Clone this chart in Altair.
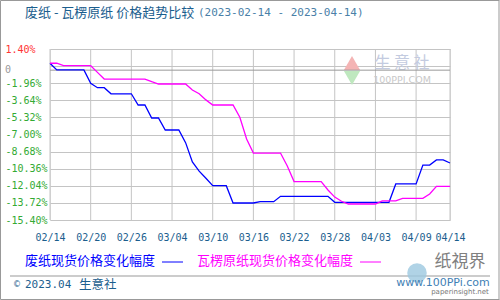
import altair as alt
import pandas as pd

# ---- data ----
START = "2023-02-14"
END = "2023-04-14"
waste_paper = [0.0, -0.66, -0.66, -0.66, -0.66, -0.66, -1.96, -2.4, -2.4, -3.0,
               -3.0, -3.0, -3.0, -4.1, -4.1, -5.38, -5.38, -6.56, -6.56, -6.56,
               -7.8, -9.7, -10.6, -11.3, -12.03, -12.03, -12.03, -13.73, -13.73, -13.73,
               -13.73, -13.6, -13.6, -13.6, -13.07, -13.07, -13.07, -13.07, -13.07, -13.07,
               -13.07, -13.07, -13.66, -13.66, -13.66, -13.66, -13.66, -13.66, -13.66, -13.66,
               -13.66, -11.86, -11.86, -11.86, -11.86, -10.0, -10.0, -9.5, -9.5, -9.8]
corrugated = [0.0, 0.0, -0.24, -0.24, -0.24, -0.24, -0.24, -0.9, -1.55, -1.55,
              -1.55, -1.55, -1.55, -1.55, -1.55, -1.81, -2.04, -2.04, -2.04, -2.04,
              -2.04, -2.63, -3.0, -3.6, -4.1, -4.1, -4.1, -4.1, -5.31, -7.44,
              -8.82, -8.82, -8.82, -8.82, -8.82, -10.1, -11.63, -11.63, -11.63, -11.63,
              -11.63, -12.45, -13.15, -13.56, -13.83, -13.83, -13.83, -13.83, -13.83, -13.53,
              -13.53, -13.53, -13.27, -13.27, -13.27, -13.27, -12.84, -12.09, -12.09, -12.09]
series_names = ["废纸现货价格变化幅度", "瓦楞原纸现货价格变化幅度"]
series_colors = ["#0000ff", "#ff00ff"]
y_ticks = [1.40, -0.28, -1.96, -3.64, -5.32, -7.00, -8.68, -10.36, -12.04, -13.72, -15.40]
x_ticks = ["2023-02-14", "2023-02-20", "2023-02-26", "2023-03-04", "2023-03-10",
           "2023-03-16", "2023-03-22", "2023-03-28", "2023-04-03", "2023-04-09", "2023-04-14"]
BASELINE = -0.68
title_main = "废纸 - 瓦楞原纸 价格趋势比较"
title_dates = "(2023-02-14 - 2023-04-14)"
footer_year = "2023.04"
footer_site = "生意社"

dates = pd.date_range(START, END, freq="D").strftime("%Y-%m-%d")
df = pd.DataFrame({
    "date": list(dates) * 2,
    "value": waste_paper + corrugated,
    "series": [series_names[0]] * len(dates) + [series_names[1]] * len(dates),
})

CJK = "Noto Sans CJK SC"
MONO = "DejaVu Sans Mono"
DARK = "#1b5e8e"
GRID = "#c4c4c4"

x_scale = alt.Scale(type="utc", domain=[START, END], nice=False)
y_scale = alt.Scale(domain=[-15.4, 1.4], nice=False, zero=False)

x_axis = alt.Axis(values=x_ticks, format="%m/%d", title=None, domain=False,
                  ticks=False, labelColor=DARK, labelFont=MONO, labelFontSize=10,
                  labelPadding=12, labelOverlap=False, labelFlush=False, grid=False)
y_axis = alt.Axis(values=y_ticks, title=None, domain=False, ticks=False, tickSize=0,
                  labelAlign="left", labelPadding=45, labelFont=MONO, labelFontSize=10,
                  labelOverlap=False, labelFlush=False,
                  grid=True, gridColor=GRID, gridWidth=1,
                  labelExpr="abs(datum.value + 0.28) < 0.01 ? '' : (datum.value < 0 ? '-' : '') + format(abs(datum.value), '.2f') + '%'",
                  labelColor={"condition": {"test": "datum.value > 0", "value": "#ff3333"},
                              "value": "#33aa33"})

X = alt.X("date:T", scale=x_scale, axis=x_axis)
Y = alt.Y("value:Q", scale=y_scale, axis=y_axis)

# vertical grid lines drawn from the tick array through the shared x scale
xgrid = alt.Chart(alt.Data(values=[{"date": d} for d in x_ticks])).mark_rule(
    color=GRID, strokeWidth=1).encode(x=X, y=alt.value(0), y2=alt.value(171))

lines = alt.Chart(df).mark_line(strokeWidth=1.3, interpolate="linear").encode(
    x=X, y=Y,
    color=alt.Color("series:N", scale=alt.Scale(domain=series_names, range=series_colors), legend=None),
)

base_rule = alt.Chart(pd.DataFrame({"value": [BASELINE]})).mark_rule(color="#999999", strokeWidth=1).encode(y=Y)
zero_label = alt.Chart(pd.DataFrame({"value": [BASELINE], "t": ["0"]})).mark_text(
    align="left", baseline="middle", font=MONO, fontSize=10, color="#999999").encode(
    y=Y, x=alt.value(-45), text="t:N")


def label(text, x, y, color, size, font=CJK, align="left", weight="normal"):
    return alt.Chart(alt.Data(values=[{"t": text}])).mark_text(
        align=align, baseline="middle", font=font, fontSize=size, color=color, fontWeight=weight
    ).encode(text="t:N", x=alt.value(x), y=alt.value(y))


def hline(x1, x2, y, color, width=1.0):
    return alt.Chart(alt.Data(values=[{"a": 1}])).mark_rule(color=color, strokeWidth=width).encode(
        x=alt.value(x1), x2=alt.value(x2), y=alt.value(y))


def vline(x, y1, y2, color, width=1.0):
    return alt.Chart(alt.Data(values=[{"a": 1}])).mark_rule(color=color, strokeWidth=width).encode(
        x=alt.value(x), y=alt.value(y1), y2=alt.value(y2))


tri_up = alt.Chart(alt.Data(values=[{"a": 1}])).mark_point(
    shape="triangle-up", filled=True, color="#f4b4b4", size=260, opacity=1).encode(
    x=alt.value(302), y=alt.value(14))
tri_down = alt.Chart(alt.Data(values=[{"a": 1}])).mark_point(
    shape="triangle-down", filled=True, color="#bfe8bf", size=260, opacity=1).encode(
    x=alt.value(302), y=alt.value(29))
logo_circle = alt.Chart(alt.Data(values=[{"a": 1}])).mark_point(
    shape="circle", filled=True, color="#9cc8e0", size=380, opacity=0.8).encode(
    x=alt.value(367), y=alt.value(224))

layers = [
    xgrid,
    tri_up, tri_down,
    label("生 意 社", 352, 14, "#c3cbe0", 16, align="center"),
    label("100PPI.COM", 352, 31, "#c8c8c8", 9.5, font="DejaVu Sans", align="center"),
    base_rule,
    lines,
    zero_label,
    # outer border of the picture
    hline(-49.5, 449.5, -48.5, "#999999"),
    hline(-49.5, 449.5, 250.5, "#999999"),
    vline(-49.5, -48.5, 250.5, "#999999"),
    vline(449, -48.5, 250.5, "#999999"),
    label(title_main, -25, -36, DARK, 13),
    label(title_dates, 148, -36, "#4a7fa8", 11, font=MONO),
    label(series_names[0], -25, 212, series_colors[0], 13),
    hline(112, 133, 213, series_colors[0]),
    label(series_names[1], 147, 212, series_colors[1], 13),
    hline(310, 331, 213, series_colors[1]),
    hline(-40, 440, 227, "#999999"),
    label("©", -37, 236, DARK, 8, font="DejaVu Sans"),
    label(footer_year, -25, 236, DARK, 11, font=MONO),
    label(footer_site, 29, 236, DARK, 12.5),
    logo_circle,
    label("纸視界", 410, 213, "#808080", 17, align="center"),
    label("www.100PPi.com", 393, 234, "#3f7fb5", 11, font="DejaVu Sans", align="center"),
    label("paperinsight.net", 410, 243, "#777777", 7, font="DejaVu Sans", align="center"),
]

chart = alt.layer(*layers).properties(
    width=400, height=171,
    padding={"left": 50, "top": 49, "right": 50, "bottom": 80},
    autosize=alt.AutoSizeParams(type="none"),
).configure_view(stroke="#999999", strokeWidth=1).configure(background="white")

chart.save("out.html", embed_options={"renderer": "svg", "actions": False})
